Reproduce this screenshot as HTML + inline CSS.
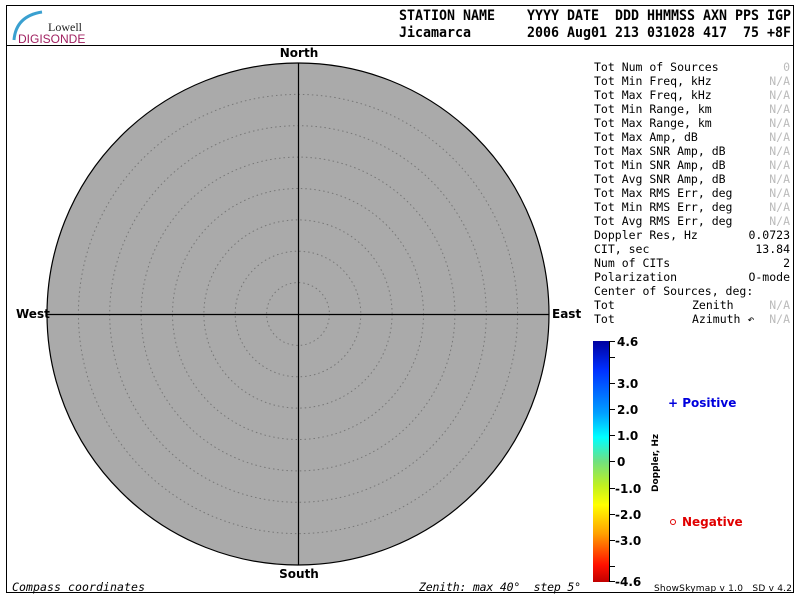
<!DOCTYPE html>
<html><head><meta charset="utf-8"><style>
body{margin:0;background:#fff;width:800px;height:600px;overflow:hidden}
svg{display:block}
text{white-space:pre}
.m{font-family:"DejaVu Sans Mono","Liberation Mono",monospace;font-size:11.5px}
.h{font-family:"DejaVu Sans Mono","Liberation Mono",monospace;font-size:14px;font-weight:bold}
.b{font-family:"DejaVu Sans","Liberation Sans",sans-serif;font-size:12px;font-weight:bold}
.g{fill:#bbb}
</style></head><body>
<svg width="800" height="600" xmlns="http://www.w3.org/2000/svg" xml:space="preserve">
<defs><linearGradient id="cb" x1="0" y1="0" x2="0" y2="1">
<stop offset="0" stop-color="#0000a0"/><stop offset="0.12" stop-color="#0030ff"/>
<stop offset="0.3" stop-color="#00a0ff"/><stop offset="0.4" stop-color="#00ffff"/>
<stop offset="0.5" stop-color="#70e080"/><stop offset="0.6" stop-color="#c0f020"/>
<stop offset="0.68" stop-color="#ffff00"/><stop offset="0.8" stop-color="#ffa000"/>
<stop offset="0.93" stop-color="#ff1000"/><stop offset="1" stop-color="#c00000"/>
</linearGradient></defs>
<rect x="6.5" y="5.5" width="787" height="587" fill="none" stroke="#000"/>
<line x1="6" y1="45.5" x2="794" y2="45.5" stroke="#000"/>
<path d="M14 40 Q16 16 42 12" stroke="#3aa0d0" stroke-width="3" fill="none"/>
<text x="48" y="31" font-family="Liberation Serif,serif" font-size="12" fill="#222">Lowell</text>
<text x="18" y="43" font-family="Liberation Sans,sans-serif" font-size="12" fill="#a02060">DIGISONDE</text>
<text x="399" y="20" class="h" textLength="392" lengthAdjust="spacingAndGlyphs">STATION NAME    YYYY DATE  DDD HHMMSS AXN PPS IGP</text>
<text x="399" y="37" class="h" textLength="392" lengthAdjust="spacingAndGlyphs">Jicamarca       2006 Aug01 213 031028 417  75 +8F</text>
<circle cx="298" cy="314" r="251" fill="#aaaaaa" stroke="#000" stroke-width="1.2"/>
<g fill="none" stroke="#777" stroke-dasharray="1.5,3">
<circle cx="298" cy="314" r="31.4"/><circle cx="298" cy="314" r="62.8"/><circle cx="298" cy="314" r="94.1"/>
<circle cx="298" cy="314" r="125.5"/><circle cx="298" cy="314" r="156.9"/><circle cx="298" cy="314" r="188.3"/>
<circle cx="298" cy="314" r="219.6"/></g>
<line x1="298.5" y1="63" x2="298.5" y2="565" stroke="#000" stroke-width="1.2"/>
<line x1="47" y1="314.5" x2="549" y2="314.5" stroke="#000" stroke-width="1.2"/>
<text x="299" y="57" class="b" text-anchor="middle">North</text>
<text x="299" y="578" class="b" text-anchor="middle">South</text>
<text x="16" y="318" class="b" font-size="11.5">West</text>
<text x="552" y="318" class="b" font-size="11.5">East</text>
<text x="12" y="591" class="m" font-style="italic" font-size="12" textLength="133">Compass coordinates</text>
<text x="419" y="591" class="m" font-style="italic" font-size="12" textLength="162">Zenith: max 40°  step 5°</text>
<text x="654" y="591" font-family="DejaVu Sans,sans-serif" font-size="9" textLength="138">ShowSkymap v 1.0   SD v 4.2</text>
<g class="m">
<text x="594" y="71">Tot Num of Sources</text><text x="790" y="71" text-anchor="end" class="g">0</text>
<text x="594" y="85">Tot Min Freq, kHz</text><text x="790" y="85" text-anchor="end" class="g">N/A</text>
<text x="594" y="99">Tot Max Freq, kHz</text><text x="790" y="99" text-anchor="end" class="g">N/A</text>
<text x="594" y="113">Tot Min Range, km</text><text x="790" y="113" text-anchor="end" class="g">N/A</text>
<text x="594" y="127">Tot Max Range, km</text><text x="790" y="127" text-anchor="end" class="g">N/A</text>
<text x="594" y="141">Tot Max Amp, dB</text><text x="790" y="141" text-anchor="end" class="g">N/A</text>
<text x="594" y="155">Tot Max SNR Amp, dB</text><text x="790" y="155" text-anchor="end" class="g">N/A</text>
<text x="594" y="169">Tot Min SNR Amp, dB</text><text x="790" y="169" text-anchor="end" class="g">N/A</text>
<text x="594" y="183">Tot Avg SNR Amp, dB</text><text x="790" y="183" text-anchor="end" class="g">N/A</text>
<text x="594" y="197">Tot Max RMS Err, deg</text><text x="790" y="197" text-anchor="end" class="g">N/A</text>
<text x="594" y="211">Tot Min RMS Err, deg</text><text x="790" y="211" text-anchor="end" class="g">N/A</text>
<text x="594" y="225">Tot Avg RMS Err, deg</text><text x="790" y="225" text-anchor="end" class="g">N/A</text>
<text x="594" y="239">Doppler Res, Hz</text><text x="790" y="239" text-anchor="end">0.0723</text>
<text x="594" y="253">CIT, sec</text><text x="790" y="253" text-anchor="end">13.84</text>
<text x="594" y="267">Num of CITs</text><text x="790" y="267" text-anchor="end">2</text>
<text x="594" y="281">Polarization</text><text x="790" y="281" text-anchor="end">O-mode</text>
<text x="594" y="295">Center of Sources, deg:</text>
<text x="594" y="309">Tot</text><text x="692" y="309">Zenith</text><text x="790" y="309" text-anchor="end" class="g">N/A</text>
<text x="594" y="323">Tot</text><text x="692" y="323">Azimuth ↶</text><text x="790" y="323" text-anchor="end" class="g">N/A</text>
</g>
<rect x="593" y="341" width="16" height="241" fill="url(#cb)"/>
<g stroke="#000"><line x1="609.5" y1="341" x2="609.5" y2="582"/>
<line x1="609" y1="341.5" x2="615" y2="341.5"/><line x1="609" y1="357.5" x2="615" y2="357.5"/>
<line x1="609" y1="383.5" x2="615" y2="383.5"/><line x1="609" y1="409.5" x2="615" y2="409.5"/>
<line x1="609" y1="435.5" x2="615" y2="435.5"/><line x1="609" y1="461.5" x2="615" y2="461.5"/>
<line x1="609" y1="488.5" x2="615" y2="488.5"/><line x1="609" y1="514.5" x2="615" y2="514.5"/>
<line x1="609" y1="540.5" x2="615" y2="540.5"/><line x1="609" y1="566.5" x2="615" y2="566.5"/>
<line x1="609" y1="581.5" x2="615" y2="581.5"/></g>
<g class="b" font-size="11.5">
<text x="617" y="346">4.6</text><text x="617" y="388">3.0</text><text x="617" y="414">2.0</text>
<text x="617" y="440">1.0</text><text x="617" y="466">0</text><text x="615" y="493">-1.0</text>
<text x="615" y="519">-2.0</text><text x="615" y="545">-3.0</text><text x="615" y="586">-4.6</text>
</g>
<text transform="translate(658,492) rotate(-90)" font-family="DejaVu Sans,sans-serif" font-size="9" font-weight="bold">Doppler, Hz</text>
<text x="668" y="407" class="b" font-size="11" fill="#0000dd">+ Positive</text>
<circle cx="673" cy="522" r="2.5" fill="none" stroke="#e00000"/>
<text x="682" y="526" class="b" font-size="11" fill="#e00000">Negative</text>
</svg>
</body></html>
